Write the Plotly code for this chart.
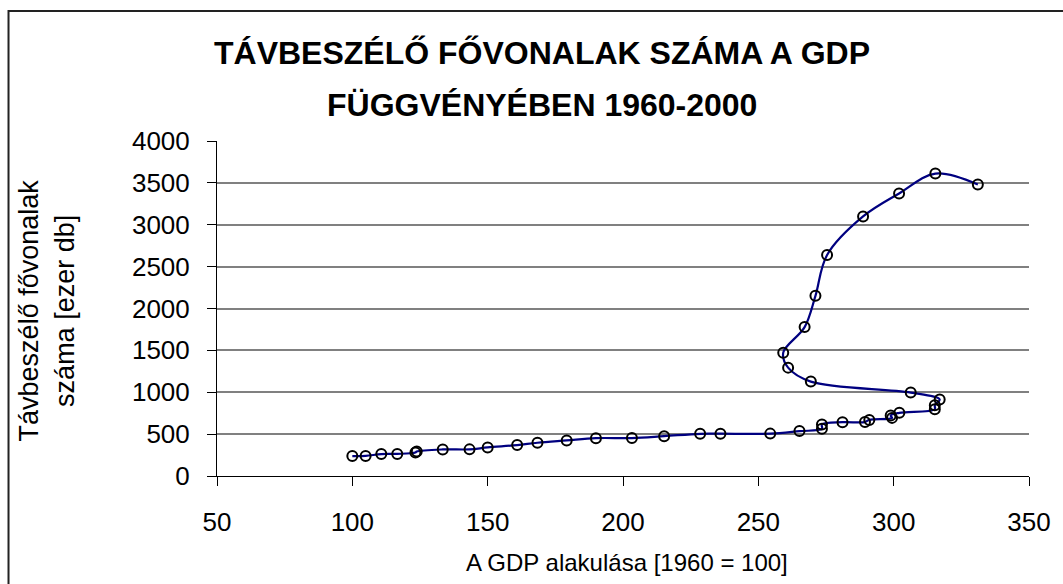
import plotly.graph_objects as go

years = list(range(1960, 2001))
gdp = [100.0, 104.9, 110.7, 116.6, 123.3, 123.8, 133.4, 143.3, 150.0, 160.9,
       168.4, 179.2, 190.0, 203.3, 215.2, 228.5, 236.0, 254.4, 265.2, 273.5,
       273.5, 281.1, 289.4, 291.0, 299.4, 298.9, 302.1, 315.2, 315.2, 317.0,
       306.3, 269.4, 261.0, 259.2, 267.1, 271.1, 275.4, 288.7, 302.0, 315.4,
       331.1]
lines = [238, 240, 262, 264, 280, 292, 317, 318, 341, 369,
         397, 425, 452, 453, 476, 504, 505, 506, 536, 563,
         615, 643, 644, 670, 694, 722, 754, 798, 845, 913,
         996, 1127, 1294, 1473, 1778, 2151, 2639, 3099, 3373, 3611,
         3480]

title_lines = ["TÁVBESZÉLŐ FŐVONALAK SZÁMA A GDP", "FÜGGVÉNYÉBEN 1960-2000"]
x_title = "A GDP alakulása [1960 = 100]"
y_title = "Távbeszélő fővonalak<br>száma [ezer db]"

W, H = 1063, 584
L, R, T, B = 217, 1031, 141, 476
pw, ph = R - L, B - T

def px(x):
    return (x - L) / pw

def py(y):
    return (B - y) / ph

FONT = "Liberation Sans, Arial, sans-serif"

fig = go.Figure()
fig.add_trace(go.Scatter(
    x=gdp, y=lines, mode="lines+markers",
    line=dict(color="#000080", width=2.2, shape="spline", smoothing=1.0),
    marker=dict(symbol="circle-open", size=10, color="black",
                line=dict(color="black", width=2)),
    hoverinfo="x+y", showlegend=False, cliponaxis=False,
))

fig.update_layout(
    width=W, height=H,
    margin=dict(l=L, r=W - R, t=T, b=H - B, pad=0),
    paper_bgcolor="white", plot_bgcolor="white",
    font=dict(family=FONT, color="black", size=26),
    xaxis=dict(range=[50, 350], dtick=50, tick0=50, showgrid=False,
               showline=True, linecolor="black", linewidth=1,
               ticks="outside", ticklen=9, tickcolor="black", tickwidth=1,
               zeroline=False, ticklabelstandoff=14,
               tickfont=dict(size=26, family=FONT)),
    yaxis=dict(range=[0, 4000], dtick=500, tick0=0, showgrid=True,
               gridcolor="#808080", gridwidth=1.5,
               showline=True, linecolor="black", linewidth=1,
               ticks="outside", ticklen=9, tickcolor="black", tickwidth=1,
               zeroline=False, ticklabelstandoff=12,
               tickfont=dict(size=26, family=FONT)),
    shapes=[dict(type="rect", xref="paper", yref="paper",
                 x0=px(8), x1=px(1120), y0=py(620), y1=py(11),
                 line=dict(color="#222222", width=2), layer="above")],
    annotations=[
        dict(text="<b>%s</b>" % title_lines[0], xref="paper", yref="paper",
             x=px(543), y=py(53), xanchor="center", yanchor="middle",
             showarrow=False, font=dict(size=32, family=FONT)),
        dict(text="<b>%s</b>" % title_lines[1], xref="paper", yref="paper",
             x=px(543), y=py(105), xanchor="center", yanchor="middle",
             showarrow=False, font=dict(size=32, family=FONT)),
        dict(text=x_title, xref="paper", yref="paper",
             x=px(628), y=py(562), xanchor="center", yanchor="middle",
             showarrow=False, font=dict(size=24, family=FONT)),
        dict(text=y_title, xref="paper", yref="paper", textangle=-90,
             x=px(46), y=py(310), xanchor="center", yanchor="middle",
             showarrow=False, font=dict(size=27, family=FONT)),
    ],
)

fig.write_html("out.html", config={"displayModeBar": False},
               post_script="document.body.style.margin='0';document.body.style.overflow='hidden';")
